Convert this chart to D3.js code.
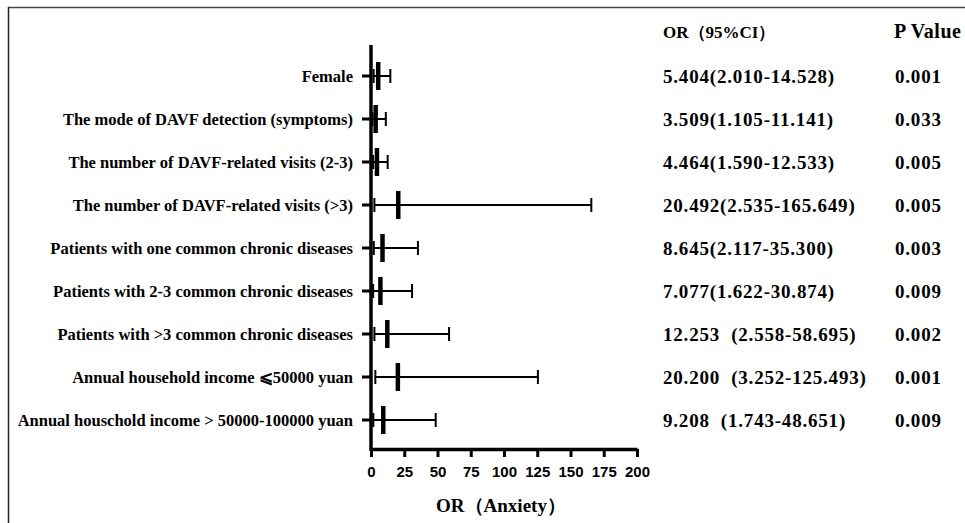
<!DOCTYPE html>
<html>
<head>
<meta charset="utf-8">
<script src="https://cdn.jsdelivr.net/npm/d3@7"></script>
<style>
  body { margin: 0; background: #fff; }
  text { font-family: "Liberation Serif", "Times New Roman", serif; font-weight: bold; fill: #000; }
</style>
</head>
<body>
<script>
// factors (top to bottom)
const labels = [
  "Female",
  "The mode of DAVF detection (symptoms)",
  "The number of DAVF-related visits (2-3)",
  "The number of DAVF-related visits (>3)",
  "Patients with one common chronic diseases",
  "Patients with 2-3 common chronic diseases",
  "Patients with >3 common chronic diseases",
  "Annual household income \u2A7D50000 yuan",
  "Annual houschold income > 50000-100000 yuan"
]
const orValues = [5.404, 3.509, 4.464, 20.492, 8.645, 7.077, 12.253, 20.200, 9.208]
const lowerCI = [2.010, 1.105, 1.590, 2.535, 2.117, 1.622, 2.558, 3.252, 1.743]
const upperCI = [14.528, 11.141, 12.533, 165.649, 35.300, 30.874, 58.695, 125.493, 48.651]
const ciText = [
  "5.404(2.010-14.528)",
  "3.509(1.105-11.141)",
  "4.464(1.590-12.533)",
  "20.492(2.535-165.649)",
  "8.645(2.117-35.300)",
  "7.077(1.622-30.874)",
  "12.253  (2.558-58.695)",
  "20.200  (3.252-125.493)",
  "9.208  (1.743-48.651)"
]
const pValues = ["0.001", "0.033", "0.005", "0.005", "0.003", "0.009", "0.002", "0.001", "0.009"]
const xTicks = [0, 25, 50, 75, 100, 125, 150, 175, 200]

const w = 965, h = 523

const svg = d3.select("body").append("svg")
  .attr("width", w)
  .attr("height", h)

// frame lines (top + left only)
svg.append("line").attr("x1", 8).attr("x2", w).attr("y1", 7.5).attr("y2", 7.5)
  .attr("stroke", "#444").attr("stroke-width", 1.5)
svg.append("line").attr("x1", 8.5).attr("x2", 8.5).attr("y1", 7).attr("y2", h)
  .attr("stroke", "#222").attr("stroke-width", 1.5)

const xScale = d3.scaleLinear().domain([0, 200]).range([371, 637])
const yScale = d3.scalePoint().domain(labels).range([76, 420])

// y axis line + category ticks
svg.append("line")
  .attr("x1", xScale(0)).attr("x2", xScale(0))
  .attr("y1", 45).attr("y2", 451)
  .attr("stroke", "#000").attr("stroke-width", 3.5)

svg.selectAll(".ytick")
  .data(labels)
  .enter()
  .append("line")
  .attr("class", "ytick")
  .attr("x1", xScale(0) - 9).attr("x2", xScale(0))
  .attr("y1", d => yScale(d)).attr("y2", d => yScale(d))
  .attr("stroke", "#000").attr("stroke-width", 3)

// category labels
svg.selectAll(".ylab")
  .data(labels)
  .enter()
  .append("text")
  .attr("class", "ylab")
  .attr("x", 353)
  .attr("y", d => yScale(d))
  .attr("dy", "0.35em")
  .attr("text-anchor", "end")
  .style("font-size", "16.5px")
  .text(d => d)

// CI whiskers
const rows = labels.map((l, i) => ({ label: l, or: orValues[i], lo: lowerCI[i], hi: upperCI[i] }))

svg.selectAll(".ci")
  .data(rows)
  .enter()
  .append("line")
  .attr("x1", d => xScale(d.lo)).attr("x2", d => xScale(d.hi))
  .attr("y1", d => yScale(d.label)).attr("y2", d => yScale(d.label))
  .attr("stroke", "#000").attr("stroke-width", 2)

// caps
svg.selectAll(".capl")
  .data(rows)
  .enter()
  .append("line")
  .attr("x1", d => xScale(d.lo)).attr("x2", d => xScale(d.lo))
  .attr("y1", d => yScale(d.label) - 7).attr("y2", d => yScale(d.label) + 7)
  .attr("stroke", "#000").attr("stroke-width", 2)

svg.selectAll(".caph")
  .data(rows)
  .enter()
  .append("line")
  .attr("x1", d => xScale(d.hi)).attr("x2", d => xScale(d.hi))
  .attr("y1", d => yScale(d.label) - 7).attr("y2", d => yScale(d.label) + 7)
  .attr("stroke", "#000").attr("stroke-width", 2)

// OR marker
svg.selectAll(".mark")
  .data(rows)
  .enter()
  .append("line")
  .attr("x1", d => xScale(d.or)).attr("x2", d => xScale(d.or))
  .attr("y1", d => yScale(d.label) - 14).attr("y2", d => yScale(d.label) + 14)
  .attr("stroke", "#000").attr("stroke-width", 4.5)

// x axis
const xAxis = d3.axisBottom(xScale).tickValues(xTicks).tickSize(8).tickPadding(9).tickSizeOuter(0)
const gx = svg.append("g")
  .attr("transform", "translate(0, 449)")
  .call(xAxis)
gx.select(".domain").attr("stroke-width", 3.5)
gx.selectAll(".tick line").attr("stroke-width", 3)
gx.selectAll(".tick text")
  .style("font-family", "'Liberation Sans', Arial, sans-serif")
  .style("font-weight", "bold")
  .style("font-size", "15px")

svg.append("text")
  .attr("x", 501)
  .attr("y", 512)
  .attr("text-anchor", "middle")
  .style("font-size", "19px")
  .text("OR\uFF08Anxiety\uFF09")

// table on the right
svg.append("text")
  .attr("x", 663).attr("y", 38)
  .style("font-size", "17px")
  .text("OR\uFF0895%CI\uFF09")
svg.append("text")
  .attr("x", 894).attr("y", 38)
  .style("font-size", "20px")
  .style("letter-spacing", "0.5px")
  .text("P Value")

svg.selectAll(".citxt")
  .data(ciText)
  .enter()
  .append("text")
  .attr("x", 663)
  .attr("y", (d, i) => yScale(labels[i]))
  .attr("dy", "0.35em")
  .style("font-size", "19px")
  .style("letter-spacing", "0.8px")
  .style("white-space", "pre")
  .text(d => d)

svg.selectAll(".ptxt")
  .data(pValues)
  .enter()
  .append("text")
  .attr("x", 895)
  .attr("y", (d, i) => yScale(labels[i]))
  .attr("dy", "0.35em")
  .style("font-size", "19px")
  .style("letter-spacing", "0.8px")
  .text(d => d)
</script>
</body>
</html>
